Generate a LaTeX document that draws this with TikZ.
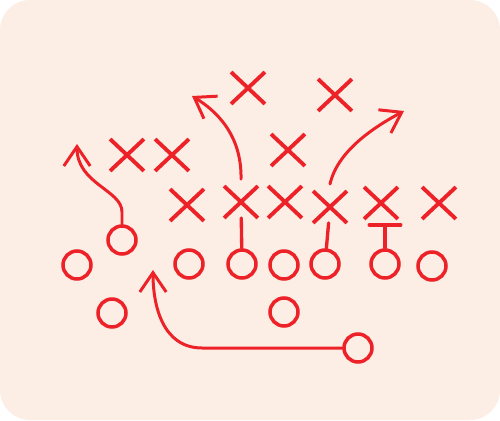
\documentclass[tikz,border=0pt]{standalone}
\usetikzlibrary{shapes.misc,arrows.meta}
\definecolor{chalk}{RGB}{236,34,40}
\definecolor{paper}{RGB}{252,237,229}
\begin{document}
\begin{tikzpicture}[x=0.02cm, y=-0.02cm,
                player/.style={draw=chalk, circle, line width=2pt, minimum size=0.56cm, inner sep=0pt},
                guard/.style={draw=chalk, cross out, line width=2.2pt, minimum width=0.6cm, minimum height=0.56cm, inner sep=0pt},
                route/.style={draw=chalk, line width=1.7pt, line cap=round, -{Straight Barb[length=11pt, width=15pt]}},
                block/.style={draw=chalk, line width=1.9pt, line cap=round}]

                \useasboundingbox (0,0) rectangle (500,420);
                \fill[paper, rounded corners=0.6cm] (0,0) rectangle (500,420);

                \node[guard] (x1) at (248,88) {};
                \node[guard] (x2) at (335,95) {};
                \node[guard] (x3) at (127,155) {};
                \node[guard] (x4) at (172,155) {};
                \node[guard] (x5) at (288,150) {};
                \node[guard] (x6) at (187,205) {};
                \node[guard] (x7) at (241,202) {};
                \node[guard] (x8) at (285,202) {};
                \node[guard] (x9) at (330,207) {};
                \node[guard] (x10) at (381,203) {};
                \node[guard] (x11) at (439,203) {};

                \node[player] (o1) at (122,240) {};
                \node[player] (o2) at (77,265) {};
                \node[player] (o3) at (189,264) {};
                \node[player] (o4) at (242,264) {};
                \node[player] (o5) at (284,265) {};
                \node[player] (o6) at (325,264) {};
                \node[player] (o7) at (385,264) {};
                \node[player] (o8) at (432,266) {};
                \node[player] (o9) at (112,313) {};
                \node[player] (o10) at (284,312) {};
                \node[player] (o11) at (358,348) {};

                \coordinate (tip1) at (77,144);
                \coordinate (tip2) at (192,96);
                \coordinate (tip3) at (404,111);
                \coordinate (tip4) at (153,270);
                \coordinate (bar) at (385,225);

                \draw[route] (o1) -- ++(0,-28) .. controls +(0,-22) and +(0,40) .. (tip1);
                \draw[route] ([yshift=4pt]x7.north) .. controls +(1,-45) and +(23,14) .. (tip2);
                \draw[route] ([yshift=4pt]x9.north) .. controls +(8,-35) and +(-26,14) .. (tip3);
                \draw[route] (o11.west) -- ++(-140,0) .. controls +(-40,0) and +(0,35) .. (tip4);

                \draw[block] (o4) -- (x7);
                \draw[block] (o6) -- (x9);
                \draw[block] (o7) -- (bar);
                \draw[block] ([xshift=-9pt]bar) -- ([xshift=9pt]bar);
            \end{tikzpicture}
\end{document}
